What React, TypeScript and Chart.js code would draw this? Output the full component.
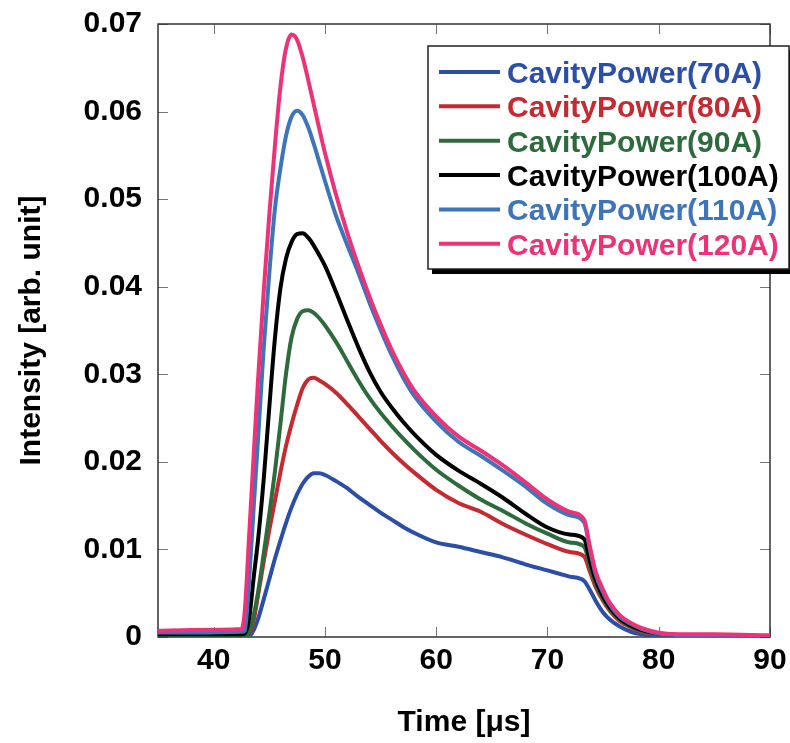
import React, { useEffect, useRef } from "react";
import { Chart, registerables } from "chart.js";

Chart.register(...registerables);

const times = [35, 38, 42.5, 42.8, 43.2, 43.6, 44, 44.5, 45, 45.5, 46, 46.5, 47, 47.5, 48, 48.5, 49, 49.5, 50, 51, 52, 53, 54, 55, 56, 57, 58, 60, 62, 64, 66, 68, 70, 72, 73.3, 73.8, 74.3, 75, 75.6, 76.5, 77.5, 78.5, 80, 82, 85, 90];

const power70A = [0, 0, 0, 0, 0.0001, 0.0008, 0.0021, 0.0043, 0.0066, 0.0089, 0.0110, 0.0130, 0.0148, 0.0163, 0.0175, 0.0183, 0.0187, 0.0187, 0.0185, 0.0178, 0.0170, 0.0160, 0.0151, 0.0142, 0.0134, 0.0126, 0.0119, 0.0108, 0.0103, 0.0097, 0.0091, 0.0083, 0.0076, 0.0069, 0.0064, 0.0054, 0.0042, 0.0028, 0.0020, 0.0012, 0.0006, 0.0003, 0.0001, 0.0001, 0.0001, 0.0001];
const power80A = [0, 0, 0, 0, 0.0003, 0.0019, 0.0048, 0.0086, 0.0122, 0.0155, 0.0188, 0.0218, 0.0243, 0.0265, 0.0284, 0.0294, 0.0296, 0.0293, 0.0289, 0.0279, 0.0266, 0.0252, 0.0238, 0.0224, 0.0211, 0.0199, 0.0188, 0.0168, 0.0153, 0.0143, 0.0129, 0.0117, 0.0106, 0.0097, 0.0092, 0.0075, 0.0058, 0.0041, 0.0030, 0.0018, 0.0011, 0.0006, 0.0003, 0.0001, 0.0001, 0.0001];
const power90A = [0.0001, 0.0001, 0.0001, 0.0001, 0.0005, 0.0025, 0.0052, 0.0095, 0.0140, 0.0188, 0.0243, 0.0300, 0.0342, 0.0363, 0.0372, 0.0373, 0.0370, 0.0364, 0.0356, 0.0337, 0.0315, 0.0293, 0.0273, 0.0256, 0.0241, 0.0227, 0.0214, 0.0191, 0.0173, 0.0157, 0.0144, 0.0130, 0.0118, 0.0108, 0.0103, 0.0082, 0.0062, 0.0044, 0.0032, 0.0020, 0.0012, 0.0007, 0.0003, 0.0001, 0.0001, 0.0001];
const power100A = [0.0003, 0.0003, 0.0003, 0.0004, 0.0022, 0.0068, 0.0112, 0.0180, 0.0262, 0.0340, 0.0398, 0.0432, 0.0451, 0.0460, 0.0461, 0.0456, 0.0447, 0.0436, 0.0424, 0.0394, 0.0362, 0.0331, 0.0303, 0.0280, 0.0262, 0.0246, 0.0232, 0.0208, 0.0190, 0.0175, 0.0159, 0.0141, 0.0125, 0.0117, 0.0112, 0.0088, 0.0066, 0.0046, 0.0034, 0.0021, 0.0013, 0.0008, 0.0004, 0.0002, 0.0001, 0.0001];
const power110A = [0.0005, 0.0005, 0.0006, 0.0007, 0.0067, 0.0148, 0.0228, 0.0330, 0.0415, 0.0488, 0.0535, 0.0572, 0.0594, 0.0601, 0.0596, 0.0582, 0.0563, 0.0542, 0.0521, 0.0481, 0.0448, 0.0416, 0.0382, 0.0351, 0.0322, 0.0297, 0.0276, 0.0246, 0.0223, 0.0207, 0.0190, 0.0172, 0.0152, 0.0139, 0.0131, 0.0101, 0.0073, 0.0051, 0.0037, 0.0023, 0.0015, 0.0009, 0.0004, 0.0002, 0.0001, 0.0001];
const power120A = [0.0007, 0.0008, 0.0009, 0.0030, 0.0118, 0.0208, 0.0296, 0.0395, 0.0482, 0.0560, 0.0628, 0.0672, 0.0688, 0.0682, 0.0662, 0.0636, 0.0608, 0.0580, 0.0553, 0.0505, 0.0462, 0.0424, 0.0389, 0.0357, 0.0328, 0.0303, 0.0282, 0.0252, 0.0229, 0.0213, 0.0196, 0.0177, 0.0157, 0.0143, 0.0134, 0.0104, 0.0076, 0.0054, 0.0039, 0.0025, 0.0016, 0.0010, 0.0005, 0.0003, 0.0003, 0.0002];

const seriesValues = [power70A, power80A, power90A, power100A, power110A, power120A];
const seriesLabels = ["CavityPower(70A)", "CavityPower(80A)", "CavityPower(90A)", "CavityPower(100A)", "CavityPower(110A)", "CavityPower(120A)"];
const seriesColors = ["#2B4FA8", "#C62A30", "#2D6B3C", "#000000", "#3D74BA", "#EE3278"];

const xTicks = [40, 50, 60, 70, 80, 90];
const yTicks = [0, 0.01, 0.02, 0.03, 0.04, 0.05, 0.06, 0.07];
const xTitle = "Time [\u03bcs]";
const yTitle = "Intensity [arb. unit]";

const FONT = '"Liberation Sans", Arial, Helvetica, sans-serif';

const framePlugin = {
  id: "frame",
  beforeDatasetsDraw(chart: any) {
    const { ctx, chartArea: a, scales } = chart;
    ctx.save();
    ctx.strokeStyle = "#777";
    ctx.lineWidth = 1;
    ctx.beginPath();
    for (const v of xTicks) {
      const x = Math.round(scales.x.getPixelForValue(v)) + 0.5;
      ctx.moveTo(x, a.bottom);
      ctx.lineTo(x, a.bottom - 10);
      ctx.moveTo(x, a.top);
      ctx.lineTo(x, a.top + 10);
    }
    for (const v of yTicks) {
      const y = Math.round(scales.y.getPixelForValue(v)) + 0.5;
      ctx.moveTo(a.left, y);
      ctx.lineTo(a.left + 10, y);
      ctx.moveTo(a.right, y);
      ctx.lineTo(a.right - 10, y);
    }
    ctx.stroke();
    ctx.strokeStyle = "#333";
    ctx.lineWidth = 1.5;
    ctx.strokeRect(a.left, a.top, a.right - a.left, a.bottom - a.top);
    ctx.restore();
  },
};

const legendPlugin = {
  id: "boxLegend",
  afterDraw(chart: any) {
    const { ctx } = chart;
    const left = 428;
    const top = 46;
    const right = 789;
    const bottom = 269;
    ctx.save();
    ctx.fillStyle = "#000";
    ctx.fillRect(left + 4, bottom, right - left + 4, 5);
    ctx.fillRect(right, top + 4, 5, bottom - top);
    ctx.fillStyle = "#fff";
    ctx.fillRect(left, top, right - left, bottom - top);
    ctx.strokeStyle = "#222";
    ctx.lineWidth = 1.5;
    ctx.strokeRect(left, top, right - left, bottom - top);
    ctx.font = `bold 30px ${FONT}`;
    ctx.textAlign = "left";
    ctx.textBaseline = "alphabetic";
    chart.data.datasets.forEach((ds: any, i: number) => {
      const y = 72 + i * 34.35;
      ctx.strokeStyle = ds.borderColor;
      ctx.lineWidth = 4;
      ctx.beginPath();
      ctx.moveTo(439, y);
      ctx.lineTo(500, y);
      ctx.stroke();
      ctx.fillStyle = ds.borderColor;
      ctx.fillText(ds.label, 507, y + 11);
    });
    ctx.restore();
  },
};

export default function App() {
  const canvasRef = useRef<HTMLCanvasElement | null>(null);

  useEffect(() => {
    document.body.style.margin = "0";
    const canvas = canvasRef.current;
    if (!canvas) return;
    const datasets = seriesValues.map((vals, i) => ({
      label: seriesLabels[i],
      data: times.map((t, j) => ({ x: t, y: vals[j] })),
      borderColor: seriesColors[i],
      backgroundColor: seriesColors[i],
      borderWidth: 4,
      pointRadius: 0,
      fill: false,
      cubicInterpolationMode: "monotone" as const,
      order: seriesValues.length - i,
    }));
    const chart = new Chart(canvas, {
      type: "line",
      data: { datasets },
      options: {
        responsive: false,
        animation: false,
        layout: { padding: { top: 24, right: 20, left: 0, bottom: 0 } },
        plugins: { legend: { display: false }, tooltip: { enabled: false } },
        scales: {
          x: {
            type: "linear",
            min: 35,
            max: 90,
            afterBuildTicks: (s: any) => {
              s.ticks = xTicks.map((v) => ({ value: v }));
            },
            afterFit: (s: any) => {
              s.height = 106;
              s.paddingLeft = 0;
              s.paddingRight = 0;
            },
            grid: { display: false, drawTicks: false },
            border: { display: false },
            ticks: {
              padding: 6,
              color: "#000",
              font: { family: FONT, size: 30, weight: "bold" },
              maxRotation: 0,
              autoSkip: false,
            },
            title: {
              display: true,
              text: xTitle,
              color: "#000",
              font: { family: FONT, size: 30, weight: "bold", lineHeight: 1.2 },
              padding: { top: 0, bottom: 2 },
            },
          },
          y: {
            type: "linear",
            min: 0,
            max: 0.07,
            afterBuildTicks: (s: any) => {
              s.ticks = yTicks.map((v) => ({ value: v }));
            },
            afterFit: (s: any) => {
              s.width = 158;
              s.paddingTop = 0;
              s.paddingBottom = 0;
            },
            grid: { display: false, drawTicks: false },
            border: { display: false },
            ticks: {
              padding: 16,
              color: "#000",
              font: { family: FONT, size: 30, weight: "bold" },
              callback: (v: any) => (Number(v) === 0 ? "0" : Number(v).toFixed(2)),
            },
            title: {
              display: true,
              text: yTitle,
              color: "#000",
              font: { family: FONT, size: 30, weight: "bold", lineHeight: 1.2 },
              padding: { top: 14, bottom: 0 },
            },
          },
        },
      },
      plugins: [framePlugin, legendPlugin],
    });
    return () => chart.destroy();
  }, []);

  return (
    <div style={{ width: 790, height: 743 }}>
      <canvas ref={canvasRef} width={790} height={743} style={{ display: "block" }} />
    </div>
  );
}
